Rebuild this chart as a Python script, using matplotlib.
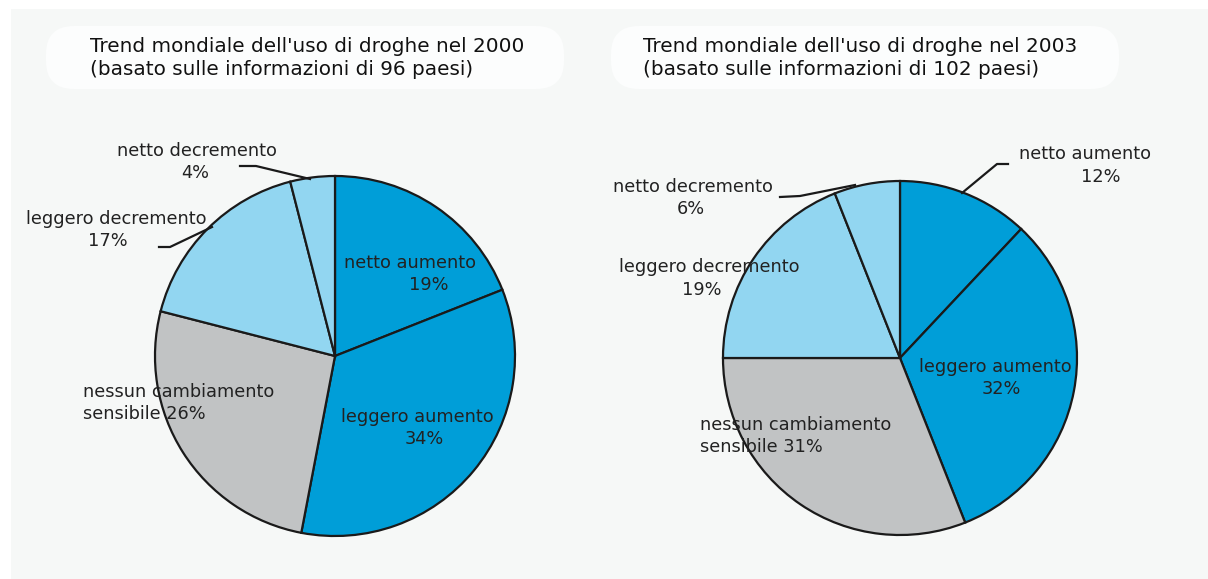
import matplotlib.pyplot as plt
from matplotlib.patches import Rectangle, FancyBboxPatch

# data
categories = ["netto aumento", "leggero aumento", "nessun cambiamento sensibile",
              "leggero decremento", "netto decremento"]
values_2000 = [19, 34, 26, 17, 4]
values_2003 = [12, 32, 31, 19, 6]
titles = ["Trend mondiale dell'uso di droghe nel 2000\n(basato sulle informazioni di 96 paesi)",
          "Trend mondiale dell'uso di droghe nel 2003\n(basato sulle informazioni di 102 paesi)"]

colors = ["#009ed8", "#009ed8", "#c1c3c4", "#92d6f1", "#92d6f1"]
txt = "#222222"
fs = 12.8

fig = plt.figure(figsize=(12.08, 5.79), dpi=100, facecolor="white")
ax = fig.add_axes([0, 0, 1, 1])
ax.set_xlim(0, 1208)
ax.set_ylim(579, 0)
ax.set_aspect("equal")
ax.axis("off")

# light background panel
ax.add_patch(Rectangle((11, 9), 1208, 579, facecolor="#f6f8f7", edgecolor="none", zorder=0))

# white blobs behind titles
for x0, w in [(50, 510), (615, 500)]:
    ax.add_patch(FancyBboxPatch((x0, 30), w, 55, boxstyle="round,pad=4,rounding_size=28",
                                facecolor="#fcfdfd", edgecolor="none", zorder=1))

# pies (y axis inverted -> counterclock in data = clockwise on screen)
for vals, c, r in [(values_2000, (335, 356), 180), (values_2003, (900, 358), 177)]:
    ax.pie(vals, colors=colors, center=c, radius=r, startangle=-90, counterclock=True,
           wedgeprops=dict(edgecolor="#1a1a1a", linewidth=1.6), frame=True)
ax.set_xlim(0, 1208)
ax.set_ylim(579, 0)
ax.axis("off")

ax.text(90, 58, titles[0], fontsize=14.4, color="#111111", ha="left", va="center",
        linespacing=1.3, zorder=3)
ax.text(643, 58, titles[1], fontsize=14.4, color="#111111", ha="left", va="center",
        linespacing=1.3, zorder=3)

def lab(x1, y1, s1, x2, y2, s2, ha="center"):
    ax.text(x1, y1, s1, fontsize=fs, color=txt, ha=ha, va="center", zorder=4)
    ax.text(x2, y2, s2, fontsize=fs, color=txt, ha=ha, va="center", zorder=4)

# 2000 labels
v = values_2000
lab(410, 263, categories[0], 429, 285, f"{v[0]}%")
lab(417, 417, categories[1], 424, 439, f"{v[1]}%")
lab(83, 392, "nessun cambiamento", 83, 414, f"sensibile {v[2]}%", ha="left")
lab(116, 219, categories[3], 108, 241, f"{v[3]}%")
lab(197, 151, categories[4], 195, 173, f"{v[4]}%")

# 2003 labels
v = values_2003
lab(1085, 154, categories[0], 1101, 177, f"{v[0]}%")
lab(995, 367, categories[1], 1001, 389, f"{v[1]}%")
lab(700, 425, "nessun cambiamento", 700, 447, f"sensibile {v[2]}%", ha="left")
lab(709, 267, categories[3], 702, 290, f"{v[3]}%")
lab(693, 187, categories[4], 691, 209, f"{v[4]}%")

# leader lines
leaders = [
    ([240, 256, 310], [166, 166, 179]),
    ([159, 170, 212], [247, 247, 227]),
    ([1008, 997, 962], [164, 164, 193]),
    ([780, 800, 855], [197, 196, 185]),
]
for xs, ys in leaders:
    ax.plot(xs, ys, color="#1a1a1a", linewidth=1.6, zorder=3)

fig.savefig("out.png", dpi=100, facecolor="white")
